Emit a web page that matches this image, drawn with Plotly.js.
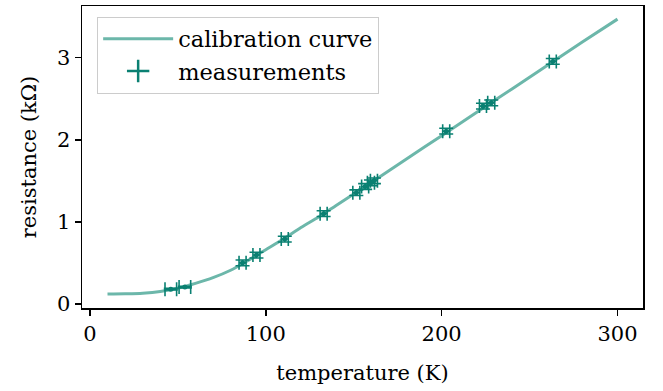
<!DOCTYPE html>
<html>
<head>
<meta charset="utf-8">
<script src="https://cdn.plot.ly/plotly-3.0.1.min.js"></script>
<style>html,body{margin:0;padding:0;background:#fff;}#chart{width:663px;height:391px;}</style>
</head>
<body>
<div id="chart"></div>
<script>
// calibration curve readings (temperature K, resistance kΩ)
const curveT = [10, 20, 30, 40, 50, 60, 70, 80, 90, 100, 110, 120, 130, 140, 150, 160, 180, 200, 220, 240, 260, 280, 300];
const curveR = [0.12, 0.123, 0.13, 0.15, 0.19, 0.25, 0.32, 0.41, 0.53, 0.66, 0.79, 0.93, 1.06, 1.20, 1.34, 1.48, 1.765, 2.05, 2.335, 2.62, 2.905, 3.19, 3.47];

// measurements
const measT = [46, 54, 86.8, 94.7, 110.8, 132.9, 151.5, 156.5, 159.8, 161.5, 202.6, 223.5, 228.2, 263.2];
const measR = [0.18, 0.205, 0.50, 0.595, 0.79, 1.10, 1.355, 1.43, 1.475, 1.50, 2.105, 2.41, 2.45, 2.955];
const errT = [3.3, 3.3, 2.0, 2.0, 2.0, 2.0, 2.0, 2.0, 2.0, 2.0, 2.0, 2.0, 2.0, 2.0];
const errR = [0.01, 0.01, 0.035, 0.035, 0.035, 0.035, 0.035, 0.035, 0.035, 0.035, 0.035, 0.035, 0.035, 0.035];

const xTicks = [0, 100, 200, 300];
const yTicks = [0, 1, 2, 3];

const curveColor = 'rgb(108,183,170)';
const measColor = 'rgb(10,128,114)';
const FONT = 'DejaVu Serif, serif';

const traces = [
  {
    x: curveT, y: curveR, type: 'scatter', mode: 'lines',
    name: 'calibration curve',
    line: {color: curveColor, width: 3, shape: 'spline', smoothing: 0.8}
  },
  {
    x: measT, y: measR, type: 'scatter', mode: 'markers',
    name: 'measurements', showlegend: false,
    marker: {color: measColor, size: 5},
    error_x: {type: 'data', array: errT, visible: true, color: measColor, thickness: 1.6, width: 7},
    error_y: {type: 'data', array: errR, visible: true, color: measColor, thickness: 1.6, width: 7}
  },
  {
    x: [null], y: [null], type: 'scatter', mode: 'markers',
    name: 'measurements', showlegend: true,
    marker: {color: measColor, size: 18, symbol: 'cross-thin', line: {color: measColor, width: 2.5}}
  }
];

const axisCommon = {
  showline: true, mirror: true, linecolor: '#000', linewidth: 1.5,
  ticks: 'outside', ticklen: 6, tickwidth: 1.5, tickcolor: '#000',
  showgrid: false, zeroline: false,
  tickfont: {family: FONT, size: 21, color: '#000'}
};

const layout = {
  width: 663, height: 391,
  margin: {l: 82, r: 20, t: 6, b: 83},
  paper_bgcolor: '#fff', plot_bgcolor: '#fff',
  font: {family: FONT, size: 21, color: '#000'},
  xaxis: Object.assign({}, axisCommon, {
    range: [-4.5, 314.5], tickvals: xTicks, ticktext: xTicks.map(String),
    title: {text: 'temperature (K)', font: {family: FONT, size: 21, color: '#000'}, standoff: 20}
  }),
  yaxis: Object.assign({}, axisCommon, {
    range: [-0.05, 3.63], tickvals: yTicks, ticktext: yTicks.map(String),
    title: {text: 'resistance (kΩ)', font: {family: FONT, size: 21, color: '#000'}, standoff: 14}
  }),
  legend: {
    x: 0.027, y: 0.965, xanchor: 'left', yanchor: 'top',
    bgcolor: 'rgba(255,255,255,0.8)', bordercolor: '#cccccc', borderwidth: 1,
    font: {family: FONT, size: 22.5, color: '#000'},
    itemwidth: 70
  },
  showlegend: true
};

Plotly.newPlot('chart', traces, layout, {staticPlot: true, displayModeBar: false});
</script>
</body>
</html>
